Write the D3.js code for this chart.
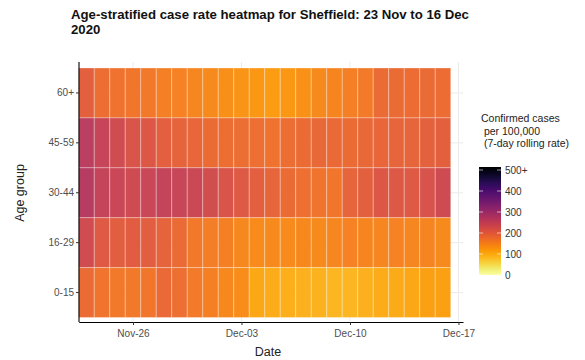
<!DOCTYPE html>
<html><head><meta charset="utf-8">
<script src="https://cdn.jsdelivr.net/npm/d3@7"></script>
<style>
body{margin:0;background:#fff;}
svg{display:block;font-family:"Liberation Sans",Arial,sans-serif;}
</style></head>
<body><svg id="chart" width="585" height="360"></svg>
<script>
const dates = ["2020-11-23","2020-11-24","2020-11-25","2020-11-26","2020-11-27","2020-11-28","2020-11-29","2020-11-30",
"2020-12-01","2020-12-02","2020-12-03","2020-12-04","2020-12-05","2020-12-06","2020-12-07","2020-12-08",
"2020-12-09","2020-12-10","2020-12-11","2020-12-12","2020-12-13","2020-12-14","2020-12-15","2020-12-16"];
const ageGroups = ["60+","45-59","30-44","16-29","0-15"];
const rate60 = [190,170,165,160,158,150,145,140,135,130,125,120,115,120,128,135,142,150,155,175,175,172,175,172];
const rate45 = [255,240,225,210,205,192,185,180,175,170,170,168,165,170,175,178,177,175,178,180,183,183,188,190];
const rate30 = [260,242,235,228,235,242,238,232,222,210,200,192,182,175,168,163,160,182,190,205,203,200,212,228];
const rate16 = [225,200,195,196,195,185,175,158,152,148,138,133,135,133,138,136,140,145,142,140,145,140,143,135];
const rate0  = [175,163,158,158,160,176,168,155,148,138,132,102,97,95,93,90,86,86,93,97,99,103,110,110];
const xTickLabels = ["Nov-26","Dec-03","Dec-10","Dec-17"];
const xTickDates = ["2020-11-26","2020-12-03","2020-12-10","2020-12-17"];
const legendTicks = [0,100,200,300,400,500];
const legendLabels = ["0","100","200","300","400","500+"];

const series = {"60+":rate60,"45-59":rate45,"30-44":rate30,"16-29":rate16,"0-15":rate0};
const parse = d3.timeParse("%Y-%m-%d");
const cells = [];
ageGroups.forEach(g => dates.forEach((d,i) => cells.push({group:g, date:parse(d), value:series[g][i]})));

const svg = d3.select("#chart");
const hour = 3600*1000;
const x = d3.scaleTime()
  .domain([new Date(parse("2020-11-23").getTime()-12*hour), new Date(parse("2020-12-17").getTime()+7*hour)])
  .range([78.75, 463]);
const y = d3.scaleBand().domain(ageGroups).range([68, 317.5]).padding(0);
const color = v => d3.interpolateInferno(1 - Math.min(v,500)/500);

// gridlines
const grid = svg.append("g");
grid.selectAll("line.h").data(ageGroups).join("line")
  .attr("x1",79).attr("x2",463)
  .attr("y1",d=>y(d)+y.bandwidth()/2).attr("y2",d=>y(d)+y.bandwidth()/2)
  .attr("stroke","#ebebeb").attr("stroke-width",1);
grid.selectAll("line.v").data(xTickDates).join("line")
  .attr("x1",d=>x(parse(d))).attr("x2",d=>x(parse(d)))
  .attr("y1",62).attr("y2",322)
  .attr("stroke","#ebebeb").attr("stroke-width",1);

// tiles
svg.append("g").selectAll("rect").data(cells).join("rect")
  .attr("x",d=>x(new Date(d.date.getTime()-12*hour)))
  .attr("width",d=>x(new Date(d.date.getTime()+12*hour))-x(new Date(d.date.getTime()-12*hour)))
  .attr("y",d=>y(d.group)).attr("height",y.bandwidth())
  .attr("fill",d=>color(d.value)).attr("fill-opacity",0.95)
  .attr("stroke","#ffffff").attr("stroke-opacity",0.3).attr("stroke-width",1);

// x axis
const xAxis = d3.axisBottom(x).tickValues(xTickDates.map(parse))
  .tickFormat((d,i)=>xTickLabels[i]).tickSize(3).tickSizeOuter(0);
const gx = svg.append("g").attr("transform","translate(0,322)").call(xAxis);
gx.select(".domain").attr("stroke","#000").attr("stroke-width",1.1);
gx.selectAll(".tick line").attr("stroke","#333");
gx.selectAll(".tick text").attr("font-size",10).attr("fill","#4d4d4d").attr("dy","0.85em")
  .attr("font-family","Liberation Sans, Arial, sans-serif");

// y axis
const yAxis = d3.axisLeft(y).tickSize(3).tickSizeOuter(0);
const gy = svg.append("g").attr("transform","translate(79,0)").call(yAxis);
gy.select(".domain").attr("d","M0,62V322").attr("stroke","#000").attr("stroke-width",1.1);
gy.selectAll(".tick line").attr("stroke","#333");
gy.selectAll(".tick text").attr("font-size",10).attr("fill","#4d4d4d").attr("x",-5)
  .attr("font-family","Liberation Sans, Arial, sans-serif");

// axis titles
svg.append("text").attr("x",268).attr("y",356).attr("text-anchor","middle")
  .attr("font-size",12.5).attr("fill","#222").text("Date");
svg.append("text").attr("transform","translate(24,193) rotate(-90)").attr("text-anchor","middle")
  .attr("font-size",12.5).attr("fill","#222").text("Age group");

// title
svg.append("text").attr("x",71).attr("y",18.5).attr("font-size",13.2)
  .attr("font-weight","bold").attr("fill","#111")
  .text("Age-stratified case rate heatmap for Sheffield: 23 Nov to 16 Dec");
svg.append("text").attr("x",71).attr("y",33.5).attr("font-size",13.2)
  .attr("font-weight","bold").attr("fill","#111").text("2020");

// legend
const lg = svg.append("g");
const ltitle = ["Confirmed cases"," per 100,000"," (7-day rolling rate)"];
lg.selectAll("text.t").data(ltitle).join("text")
  .attr("x",481).attr("y",(d,i)=>122+i*12.5).attr("font-size",10.5).attr("fill","#222")
  .attr("xml:space","preserve").style("white-space","pre").text(d=>d);
const ly = d3.scaleLinear().domain([0,500]).range([275,170]);
const defs = svg.append("defs");
const grad = defs.append("linearGradient").attr("id","lgrad").attr("x1",0).attr("y1",1).attr("x2",0).attr("y2",0);
d3.range(0,1.0001,0.05).forEach(t => grad.append("stop").attr("offset",t).attr("stop-color",color(t*500)));
lg.append("rect").attr("x",479).attr("y",167).attr("width",22).attr("height",108)
  .attr("fill","url(#lgrad)");
lg.selectAll("line.l").data(legendTicks).join("line")
  .attr("x1",479).attr("x2",483).attr("y1",d=>ly(d)).attr("y2",d=>ly(d))
  .attr("stroke","#fff").attr("stroke-opacity",0.6);
lg.selectAll("line.r").data(legendTicks).join("line")
  .attr("x1",497).attr("x2",501).attr("y1",d=>ly(d)).attr("y2",d=>ly(d))
  .attr("stroke","#fff").attr("stroke-opacity",0.6);
lg.selectAll("text.v").data(legendTicks).join("text")
  .attr("x",505).attr("y",d=>ly(d)).attr("dy","0.35em").attr("font-size",10).attr("fill","#333")
  .text((d,i)=>legendLabels[i]);
</script></body></html>
